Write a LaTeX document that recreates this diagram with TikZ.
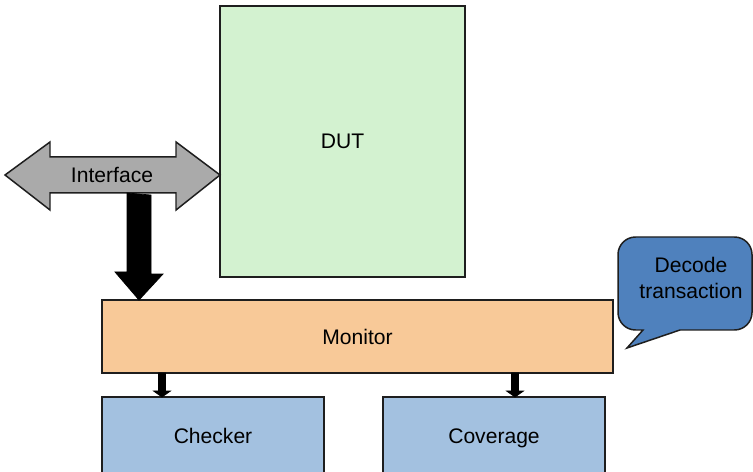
\documentclass[tikz,border=0pt]{standalone}
\usepackage{fontspec}
\setmainfont{Liberation Sans}
\usetikzlibrary{positioning,calc}
\definecolor{dutGreen}{HTML}{D3F2D0}
\definecolor{busGray}{HTML}{AAAAAA}
\definecolor{monOrange}{HTML}{F8C998}
\definecolor{boxBlue}{HTML}{A3C1E0}
\definecolor{noteBlue}{HTML}{4F81BD}
\definecolor{edgeDark}{HTML}{1E1E1E}
\tikzset{font=\fontsize{12}{14.7}\selectfont}
\tikzset{every node/.append style={outer sep=0pt, inner sep=0pt}}
\tikzset{blk/.style={draw=edgeDark, line width=0.85pt, align=center}}
\tikzset{feed/.style={fill=black, draw=black, line width=0.4pt}}

\begin{document}
\begin{tikzpicture}[x=0.02cm, y=-0.02cm]
  \useasboundingbox (0,0) rectangle (753,472);
  \clip (0,0) rectangle (753,472);

  \node[blk, fill=dutGreen, minimum width=4.9cm, minimum height=5.42cm]
  (dut) at (342.5,141.5) {DUT};
  \node[blk, fill=monOrange, minimum width=10.22cm, minimum height=1.46cm]
  (mon) at (357.5,336.5) {Monitor};
  \node[blk, fill=boxBlue, minimum width=4.44cm, minimum height=1.56cm,
  text depth=0pt] (chk) at (213,436) {Checker};
  \node[blk, fill=boxBlue, minimum width=4.44cm, minimum height=1.56cm,
  text depth=0pt] (cov) at (494,436) {Coverage};

  % interface bus
  \coordinate(L) at (5,175);
  \coordinate(R) at (dut.west |- L);
  \draw[blk, fill=busGray] (L) -- (50,142) -- (50,157) -- (176,157) -- (176,142)
  -- (R) -- (176,210) -- (176,193) -- (50,193) -- (50,210) -- cycle;
  \node (ifc) at (112,175) {Interface};

  % bus to monitor
  \coordinate(T) at (139,193);
  \draw[feed] (T) ++(-12,0) -- ++(0,79) -- ++(-12,0) -- (T |- mon.north)
  -- ++(24,-26) -- ++(-12,0) -- ++(0,-79) -- cycle;

  % monitor to checker and coverage
  \coordinate(X1) at (162,0);
  \coordinate(X2) at (515,0);
  \foreach \X/\B in {X1/chk, X2/cov}
    \draw[feed] (mon.south -| \X) ++(-3.5,0) -- ++(0,18) -- ++(-5,0)
    -- (\B.north -| \X) -- ++(8.5,-6) -- ++(-5,0) -- ++(0,-18) -- cycle;

  % note
  \draw[blk, fill=noteBlue] (627,348) -- (680,330) [rounded corners=10]
  -- (752,330) -- (752,237) -- (618,237) -- (618,330) [sharp corners]
  -- (643,330) -- cycle;
  \node[align=center] (dec) at (691,278) {Decode\\transaction};

\end{tikzpicture}
\end{document}
